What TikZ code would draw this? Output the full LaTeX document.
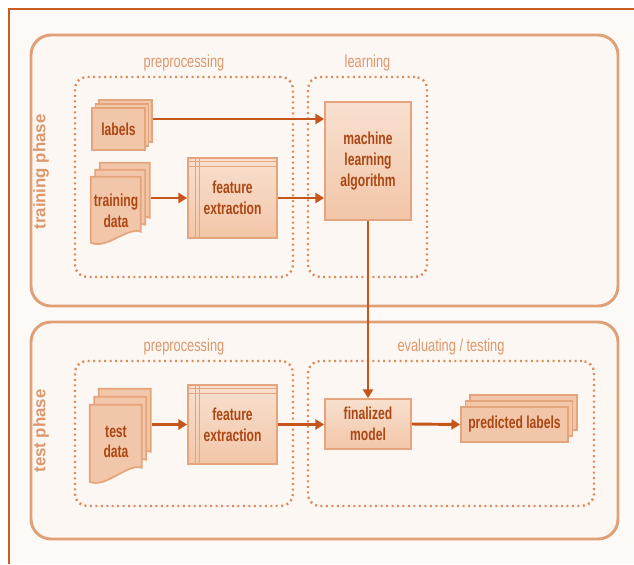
\documentclass[tikz,border=0pt]{standalone}
\usepackage{fontspec}
\setmainfont{Liberation Sans}
\newfontfamily\narrowfont{Liberation Sans}[FakeStretch=0.7]
\newfontfamily\lblfont{Liberation Sans}[FakeStretch=0.74]
\usetikzlibrary{arrows.meta,shadows}
\definecolor{frameorange}{HTML}{C85C24}
\definecolor{phaseline}{HTML}{E0A077}
\definecolor{phasefill}{HTML}{FDF7F3}
\definecolor{dotline}{HTML}{DA8D60}
\definecolor{boxfill}{HTML}{F2C6A8}
\definecolor{boxline}{HTML}{E4A47C}
\definecolor{arrowcol}{HTML}{C4561C}
\definecolor{textcol}{HTML}{AC4713}
\definecolor{lightlbl}{HTML}{DC976C}
\definecolor{paper}{HTML}{FDF9F7}

\begin{document}
\begin{tikzpicture}[x=0.75pt, y=-0.75pt,
	phase/.style={draw=phaseline, line width=2.2pt, fill=phasefill, rounded corners=15pt, minimum width=440.25pt},
	grp/.style={draw=dotline, line width=1.8pt, dash pattern=on 1.5pt off 2.6pt, rounded corners=9pt},
	grplbl/.style={font=\lblfont\fontsize{13}{15}\selectfont, text=lightlbl},
	phaselbl/.style={font=\bfseries\fontsize{12.6}{15}\selectfont, text=lightlbl, rotate=90},
	box/.style={draw=boxline, line width=1.3pt, top color=boxfill!55!white, bottom color=boxfill, font=\narrowfont\bfseries\fontsize{13}{15.5}\selectfont, text=textcol, align=center},
	stack/.style={draw=boxline, line width=1.3pt, fill=boxfill, font=\narrowfont\bfseries\fontsize{13}{15.5}\selectfont, text=textcol, align=center},
	sheet/.style={draw=boxline, line width=1.3pt, fill=boxfill},
	txt/.style={font=\narrowfont\bfseries\fontsize{13}{15.5}\selectfont, text=textcol, align=center},
	inner/.style={draw=boxline, line width=0.9pt},
	flow/.style={draw=arrowcol, line width=2.2pt, -{Triangle[length=6.5pt,width=7.5pt]}}]
	% page
	\useasboundingbox (0,0) rectangle (634,564);
	\fill[white] (0,0) rectangle (634,564);
	\fill[paper] (9,9) rectangle (634,564);
	\draw[frameorange, line width=1.5pt] (9,564) -- (9,9) -- (634,9);

	% phases
	\node[phase, minimum height=203.25pt] (trainbox) at (324.5,170.5) {};
	\node[phase, minimum height=162.75pt] (testbox) at (324.5,430.5) {};
	\node[phaselbl] (trainlbl) at (41,172) {training phase};
	\node[phaselbl] (testlbl) at (41,431) {test phase};

	% dotted groups
	\node[grp, minimum width=163.5pt, minimum height=150pt, label={[grplbl, label distance=0pt]above:preprocessing}] (preTrain) at (184,177) {};
	\node[grp, minimum width=89.25pt, minimum height=150pt, label={[grplbl, label distance=0pt]above:learning}] (learnGrp) at (367.5,177) {};
	\node[grp, minimum width=163.5pt, minimum height=108.75pt, label={[grplbl, label distance=0pt]above:preprocessing}] (preTest) at (184,433.5) {};
	\node[grp, minimum width=214.5pt, minimum height=108.75pt, label={[grplbl, label distance=0pt]above:evaluating / testing}] (evalGrp) at (451,433.5) {};

	% training phase
	\node[stack, minimum width=39.75pt, minimum height=31.5pt, copy shadow={shadow xshift=5.2pt, shadow yshift=6pt}, copy shadow={shadow xshift=2.6pt, shadow yshift=3pt}] (labels) at (118.5,129) {labels};
	\node[minimum width=37.5pt, minimum height=49.5pt] (traindata) at (116,210) {};
	\foreach \s in {2,1,0}
		\draw[sheet] ([xshift=\s*3.4pt, yshift=\s*5.25pt]traindata.north west) -- ++(50,0) -- ++(0,55) .. controls +(-14,-5) and +(16,7) .. ++(-50,11) -- cycle;
	\node[txt] (traintxt) at (116,211) {training\\data};
	\node[box, minimum width=66.75pt, minimum height=60pt] (fe1) at (232.5,198) {feature\\extraction};
	\node[box, minimum width=64.5pt, minimum height=88.5pt] (mla) at (368,161) {machine\\learning\\algorithm};

	% test phase
	\node[minimum width=39pt, minimum height=57.75pt] (testdata) at (116,443.5) {};
	\foreach \s in {2,1,0}
		\draw[sheet] ([xshift=\s*3.4pt, yshift=\s*6pt]testdata.north west) -- ++(52,0) -- ++(0,63) .. controls +(-14,-5) and +(16,7) .. ++(-52,14) -- cycle;
	\node[txt] (testtxt) at (116,442) {test\\data};
	\node[box, minimum width=66.75pt, minimum height=59.25pt] (fe2) at (232.5,424.5) {feature\\extraction};
	\node[box, minimum width=64.5pt, minimum height=37.5pt] (fmod) at (368,424) {finalized\\model};
	\node[stack, minimum width=80.25pt, minimum height=26.25pt, copy shadow={shadow xshift=6.8pt, shadow yshift=9pt}, copy shadow={shadow xshift=3.4pt, shadow yshift=4.5pt}] (pred) at (514.5,424.5) {predicted labels};

	% window lines of the feature boxes
	\foreach \n in {fe1,fe2} {
		\draw[inner] ([yshift=-3pt]\n.north west) -- ([yshift=-3pt]\n.north east);
		\draw[inner] ([yshift=-7pt]\n.north west) -- ([yshift=-7pt]\n.north east);
		\draw[inner] ([xshift=6pt]\n.north west) -- ([xshift=6pt]\n.south west);
		\draw[inner] ([xshift=9pt]\n.north west) -- ([xshift=9pt]\n.south west);
	}

	% connectors
	\coordinate (lblout) at ([xshift=5pt, yshift=7.5pt]labels.east);
	\draw[flow] (lblout) -- (lblout -| mla.west);
	\draw[flow] ([xshift=7.5pt]traindata.east |- fe1.west) -- (fe1.west);
	\draw[flow] (fe1.east) -- (fe1.east -| mla.west);
	\draw[flow] (mla.south) -- (fmod.north);
	\draw[flow] ([xshift=7.5pt]testdata.east |- fe2.west) -- (fe2.west);
	\draw[flow] (fe2.east) -- (fe2.east -| fmod.west);
	\draw[flow] (fmod.east) -- (pred.west);
\end{tikzpicture}
\end{document}
